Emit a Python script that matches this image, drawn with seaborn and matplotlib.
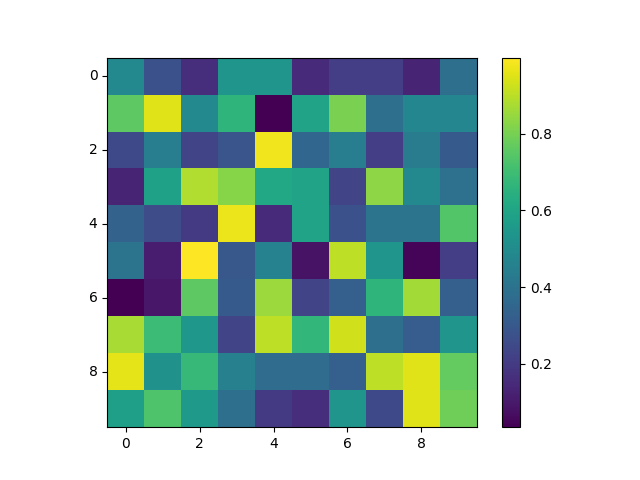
import numpy as np
import pandas as pd
import matplotlib
matplotlib.use("Agg")
import matplotlib.pyplot as plt
import seaborn as sns

# cell values, one list per row (top to bottom)
row0 = [0.488, 0.275, 0.160, 0.536, 0.536, 0.150, 0.208, 0.208, 0.130, 0.381]
row1 = [0.758, 0.951, 0.488, 0.661, 0.036, 0.594, 0.806, 0.381, 0.478, 0.478]
row2 = [0.246, 0.439, 0.227, 0.285, 0.980, 0.352, 0.439, 0.208, 0.430, 0.304]
row3 = [0.130, 0.584, 0.883, 0.825, 0.613, 0.594, 0.227, 0.835, 0.488, 0.391]
row4 = [0.333, 0.256, 0.198, 0.970, 0.150, 0.594, 0.275, 0.401, 0.401, 0.738]
row5 = [0.401, 0.111, 0.999, 0.295, 0.459, 0.082, 0.903, 0.536, 0.044, 0.208]
row6 = [0.034, 0.092, 0.758, 0.304, 0.854, 0.227, 0.324, 0.661, 0.864, 0.324]
row7 = [0.874, 0.690, 0.545, 0.227, 0.903, 0.671, 0.931, 0.381, 0.314, 0.536]
row8 = [0.960, 0.517, 0.681, 0.449, 0.372, 0.372, 0.324, 0.903, 0.951, 0.767]
row9 = [0.574, 0.729, 0.555, 0.381, 0.198, 0.160, 0.536, 0.246, 0.951, 0.787]

tick_pos = [0, 2, 4, 6, 8]

data = pd.DataFrame([row0, row1, row2, row3, row4, row5, row6, row7, row8, row9])

fig, ax = plt.subplots(figsize=(6.4, 4.8), dpi=100)
sns.heatmap(data, cmap="viridis", square=True, ax=ax, cbar=True,
            xticklabels=False, yticklabels=False)

# imshow-like ticks at cell centers
ax.set_xticks([p + 0.5 for p in tick_pos])
ax.set_xticklabels([str(p) for p in tick_pos], rotation=0)
ax.set_yticks([p + 0.5 for p in tick_pos])
ax.set_yticklabels([str(p) for p in tick_pos], rotation=0, va="center")
ax.tick_params(length=3.5, width=0.8)
for s in ax.spines.values():
    s.set_visible(True)
    s.set_linewidth(0.8)

cbar = ax.collections[0].colorbar
cbar.outline.set_linewidth(0.8)
cbar.outline.set_visible(True)
cbar.ax.tick_params(length=3.5, width=0.8, labelsize=10)

plt.savefig("out.png")
